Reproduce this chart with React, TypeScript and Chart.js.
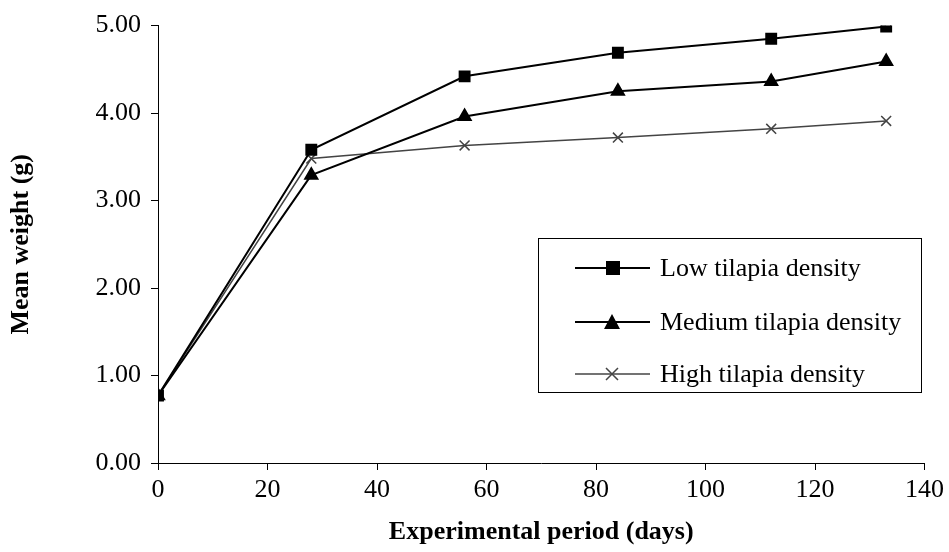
import { useEffect, useRef } from 'react'
import { Chart, registerables } from 'chart.js'

Chart.register(...registerables)

const days = [0, 28, 56, 84, 112, 133]
const lowDensity = [0.77, 3.58, 4.42, 4.69, 4.85, 4.99]
const mediumDensity = [0.77, 3.29, 3.96, 4.25, 4.36, 4.59]
const highDensity = [0.77, 3.48, 3.63, 3.72, 3.82, 3.91]
const seriesNames = ['Low tilapia density', 'Medium tilapia density', 'High tilapia density']

const FONT = '"Liberation Serif", "Times New Roman", serif'

const legendBox = {
  id: 'legendBox',
  afterDraw(chart: Chart) {
    const ctx = chart.ctx
    ctx.save()
    ctx.strokeStyle = '#000'
    ctx.lineWidth = 1
    ctx.strokeRect(538.5, 238.5, 383, 154)
    const rows = [268, 322, 374]
    const styles = ['rect', 'triangle', 'crossRot']
    const colors = ['#000', '#000', '#444']
    rows.forEach((y, i) => {
      ctx.strokeStyle = colors[i]
      ctx.fillStyle = colors[i]
      ctx.lineWidth = i === 2 ? 1.5 : 2
      ctx.beginPath()
      ctx.moveTo(575, y)
      ctx.lineTo(650, y)
      ctx.stroke()
      if (styles[i] === 'rect') ctx.fillRect(606, y - 7, 14, 14)
      else if (styles[i] === 'triangle') {
        ctx.beginPath()
        ctx.moveTo(612, y - 8)
        ctx.lineTo(620, y + 7)
        ctx.lineTo(604, y + 7)
        ctx.closePath()
        ctx.fill()
      } else {
        ctx.beginPath()
        ctx.moveTo(606, y - 6); ctx.lineTo(618, y + 6)
        ctx.moveTo(618, y - 6); ctx.lineTo(606, y + 6)
        ctx.stroke()
      }
      ctx.fillStyle = '#000'
      ctx.font = `26px ${FONT}`
      ctx.textBaseline = 'middle'
      ctx.fillText(seriesNames[i], 660, y + 1)
    })
    ctx.restore()
  },
}

export default function App() {
  const chartRef = useRef<HTMLCanvasElement>(null)

  useEffect(() => {
    document.body.style.margin = '0'
    if (!chartRef.current) return
    const axisGrid = { display: true, drawOnChartArea: false, drawTicks: true, tickLength: 7, color: '#000' }
    const chart = new Chart(chartRef.current, {
      type: 'line',
      data: {
        labels: days,
        datasets: [
          { label: seriesNames[0], data: days.map((d, i) => ({ x: d, y: lowDensity[i] })), borderColor: '#000', backgroundColor: '#000', borderWidth: 2, pointStyle: 'rect', pointRadius: 7 },
          { label: seriesNames[1], data: days.map((d, i) => ({ x: d, y: mediumDensity[i] })), borderColor: '#000', backgroundColor: '#000', borderWidth: 2, pointStyle: 'triangle', pointRadius: 7 },
          { label: seriesNames[2], data: days.map((d, i) => ({ x: d, y: highDensity[i] })), borderColor: '#444', backgroundColor: '#444', borderWidth: 1.5, pointStyle: 'crossRot', pointRadius: 7, pointBorderWidth: 1.5 },
        ],
      },
      options: {
        responsive: false,
        animation: false,
        layout: { padding: { top: 24, right: 4, left: 0, bottom: 0 } },
        plugins: { legend: { display: false }, tooltip: { enabled: false } },
        scales: {
          x: {
            type: 'linear', min: 0, max: 140,
            afterFit: (s: any) => { s.height = 89 },
            ticks: { stepSize: 20, color: '#000', padding: 5, font: { family: FONT, size: 26 } },
            grid: axisGrid,
            border: { color: '#000' },
            title: { display: true, text: 'Experimental period (days)', color: '#000', font: { family: FONT, size: 26, weight: 'bold' }, padding: { top: 8 } },
          },
          y: {
            min: 0, max: 5,
            afterFit: (s: any) => { s.width = 158 },
            ticks: { stepSize: 1, color: '#000', padding: 10, font: { family: FONT, size: 26 }, callback: (v) => Number(v).toFixed(2) },
            grid: axisGrid,
            border: { color: '#000' },
            title: { display: true, text: 'Mean weight (g)', color: '#000', font: { family: FONT, size: 26, weight: 'bold' }, padding: { top: 6, bottom: 6 } },
          },
        },
      },
      plugins: [legendBox],
    })
    return () => chart.destroy()
  }, [])

  return <canvas ref={chartRef} width={949} height={552} />
}
